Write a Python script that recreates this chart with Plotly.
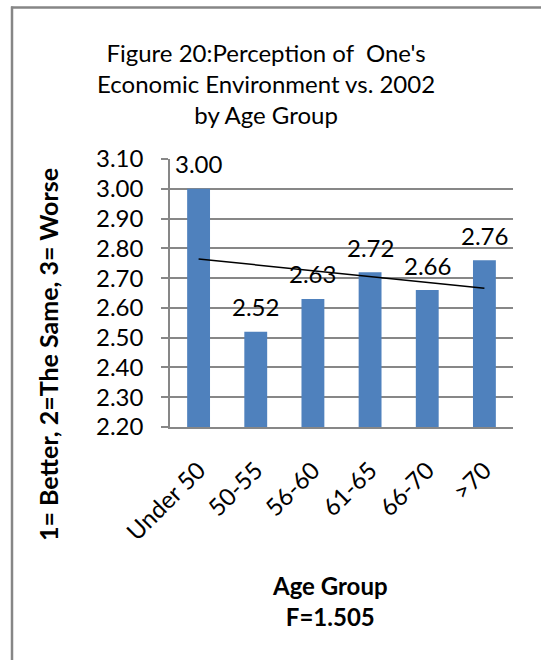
import numpy as np
import plotly.graph_objects as go

categories = ["Under 50", "50-55", "56-60", "61-65", "66-70", ">70"]
values = [3.00, 2.52, 2.63, 2.72, 2.66, 2.76]
y_ticks = [2.20, 2.30, 2.40, 2.50, 2.60, 2.70, 2.80, 2.90, 3.00, 3.10]

FONT = "Lato, Carlito, Calibri, sans-serif"
GRID = "#878787"
BORDER = "#868686"

# linear trendline (least squares) over category index
idx = np.arange(len(values))
slope, intercept = np.polyfit(idx, values, 1)
trend = [intercept + slope * i for i in idx]

fig = go.Figure()
fig.add_trace(go.Bar(
    x=categories, y=values,
    marker=dict(color="#4F81BD", line=dict(width=0)),
    width=0.4,
))
fig.add_trace(go.Scatter(
    x=categories, y=trend, mode="lines",
    line=dict(color="black", width=1.5),
))

W, H = 541, 660
ml, mr, mt, mb = 170, 28, 159, 233
pw, ph = W - ml - mr, H - mt - mb


def px_x(x):
    return (x - ml) / pw


def px_y(y):
    return (H - mb - y) / ph


annotations = [
    dict(x=c, y=v, xref="x", yref="y", text=f"{v:.2f}", showarrow=False,
         yshift=25, xanchor="center", yanchor="middle",
         font=dict(family=FONT, size=24, color="black"))
    for c, v in zip(categories, values)
]
annotations += [
    dict(text="Figure 20:Perception of  One's<br>Economic Environment vs. 2002<br>by Age Group",
         xref="paper", yref="paper", x=px_x(266), y=px_y(83),
         xanchor="center", yanchor="middle", showarrow=False,
         font=dict(family=FONT, size=24, color="black")),
    dict(text="<b>1= Better, 2=The Same, 3= Worse</b>",
         xref="paper", yref="paper", x=px_x(48), y=px_y(355),
         xanchor="center", yanchor="middle", showarrow=False, textangle=-90,
         font=dict(family=FONT, size=25, color="black")),
    dict(text="<b>Age Group<br>F=1.505</b>",
         xref="paper", yref="paper", x=px_x(330), y=px_y(601),
         xanchor="center", yanchor="middle", showarrow=False,
         font=dict(family=FONT, size=24, color="black")),
]

fig.update_layout(
    width=W, height=H,
    margin=dict(l=ml, r=mr, t=mt, b=mb, autoexpand=False),
    paper_bgcolor="white", plot_bgcolor="white",
    showlegend=False,
    font=dict(family=FONT, color="black"),
    xaxis=dict(
        tickangle=-45,
        tickfont=dict(family=FONT, size=24, color="black"),
        showline=True, linecolor=GRID, linewidth=1.5,
        ticks="", showgrid=False,
        ticklabelstandoff=18,
    ),
    yaxis=dict(
        range=[2.20, 3.10],
        tickvals=y_ticks,
        ticktext=[f"{t:.2f}" for t in y_ticks],
        tickfont=dict(family=FONT, size=24, color="black"),
        showgrid=True, gridcolor=GRID, gridwidth=1.5,
        showline=True, linecolor=GRID, linewidth=1.5,
        ticks="outside", ticklen=7, tickcolor=GRID, tickwidth=1.5,
        ticklabelstandoff=13,
        zeroline=False,
    ),
    annotations=annotations,
    shapes=[
        dict(type="line", xref="paper", yref="paper", layer="above",
             x0=px_x(11), x1=px_x(545), y0=px_y(7.5), y1=px_y(7.5),
             line=dict(color=BORDER, width=2.5)),
        dict(type="line", xref="paper", yref="paper", layer="above",
             x0=px_x(12), x1=px_x(12), y0=px_y(6.5), y1=px_y(665),
             line=dict(color=BORDER, width=2.5)),
    ],
)

fig.write_html("out.html")
